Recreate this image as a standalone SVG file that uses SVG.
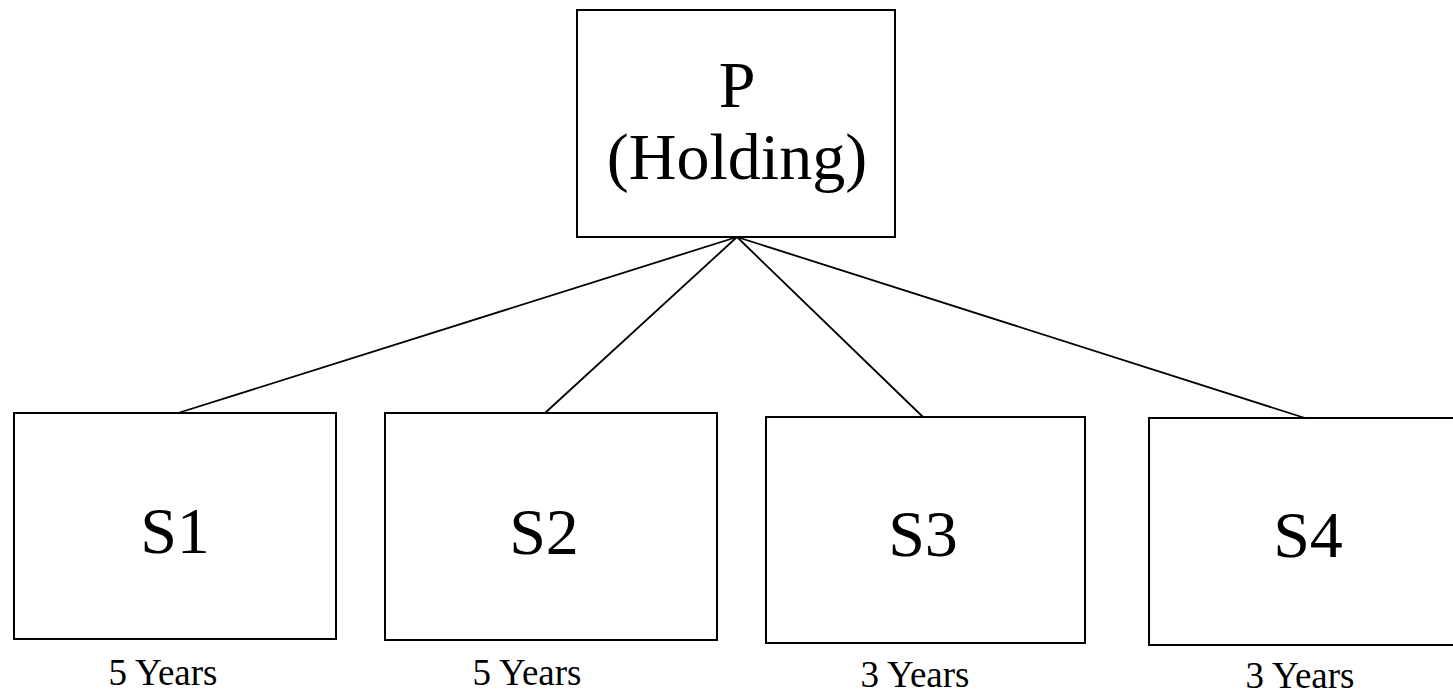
<svg xmlns="http://www.w3.org/2000/svg" width="1453" height="695" viewBox="0 0 1453 695">
<style>
.box{fill:#fff;stroke:#000;stroke-width:2}
.big{font-family:"Liberation Serif","Times New Roman",serif;font-size:66px;text-anchor:middle;fill:#000}
.lbl{font-family:"Liberation Serif","Times New Roman",serif;font-size:37px;text-anchor:middle;fill:#000}
.conn{stroke:#000;stroke-width:1.8;fill:none}
</style>
<rect width="1453" height="695" fill="#fff"/>
<g id="connectors">
<line class="conn" x1="737" y1="237" x2="178" y2="413"/>
<line class="conn" x1="737" y1="237" x2="545" y2="413"/>
<line class="conn" x1="737" y1="237" x2="923" y2="417"/>
<line class="conn" x1="737" y1="237" x2="1305" y2="418"/>
</g>
<g id="P">
<rect class="box" x="577" y="10" width="318" height="227"/>
<text class="big" x="737" y="107">P</text>
<text class="big" x="737" y="179">(Holding)</text>
</g>
<g id="S1">
<rect class="box" x="14" y="413" width="322" height="226"/>
<text class="big" x="175" y="553">S1</text>
<text class="lbl" x="163" y="685">5 Years</text>
</g>
<g id="S2">
<rect class="box" x="385" y="413" width="332" height="227"/>
<text class="big" x="544" y="554">S2</text>
<text class="lbl" x="527" y="685">5 Years</text>
</g>
<g id="S3">
<rect class="box" x="766" y="417" width="319" height="226"/>
<text class="big" x="923" y="556">S3</text>
<text class="lbl" x="915" y="687">3 Years</text>
</g>
<g id="S4">
<rect class="box" x="1149" y="418" width="320" height="227"/>
<text class="big" x="1308" y="557">S4</text>
<text class="lbl" x="1300" y="688">3 Years</text>
</g>
</svg>
